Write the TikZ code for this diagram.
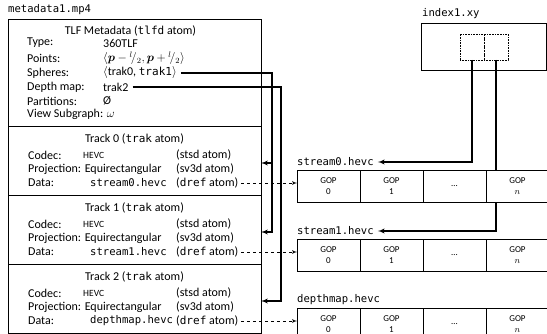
\documentclass[tikz,border=0pt]{standalone}
\usepackage{amsmath}
\usepackage{amssymb}
\usepackage{fontspec}
\setmainfont{Carlito}
\setmonofont{DejaVu Sans Mono}[Scale=0.92]
\usepackage{tikz}
\usetikzlibrary{arrows,calc,positioning,backgrounds}
\tikzset{%
	atombox/.style  = {draw, line width=0.6pt, rectangle, minimum width=253pt, inner sep=0pt, outer sep=0pt}, % mp4 atom
	field/.style    = {anchor=west, inner sep=0pt, font=\fontsize{12}{14}\selectfont},
	title/.style    = {inner sep=0pt, font=\fontsize{12}{14}\selectfont},
	codec/.style    = {anchor=west, inner sep=0pt, font=\fontsize{9.5}{11}\selectfont},
	fname/.style    = {anchor=west, inner sep=0pt, font=\ttfamily\fontsize{11.5}{13}\selectfont}, % file name
	gop/.style      = {draw, line width=0.6pt, fill=white, rectangle, minimum width=63pt, minimum height=32pt, inner sep=0pt, outer sep=0pt, align=center, font=\fontsize{9}{11}\selectfont},
	cell/.style     = {draw, densely dotted, line width=0.6pt, rectangle, minimum width=24pt, minimum height=26pt, inner sep=0pt, outer sep=0pt},
	link/.style     = {line width=1.3pt, ->, >=latex'},
	dref/.style     = {dashed, line width=0.7pt, ->, >=latex'},
}

\begin{document}
\begin{tikzpicture}[x=1pt,y=-1pt]
	\useasboundingbox (0,0) rectangle (547,334);
	
	% metadata file
	\node [fname] (mp4) at (8,10) {metadata1.mp4};
	\node [atombox,minimum height=107pt,anchor=north west] (tlfd) at (8,19) {};
	\node [atombox,minimum height=69pt,below=0pt of tlfd] (trak0) {};
	\node [atombox,minimum height=69pt,below=0pt of trak0] (trak1) {};
	\node [atombox,minimum height=69pt,below=0pt of trak1] (trak2) {};
	
	\node [title] at ($(tlfd.north)+(-4,12)$) {TLF Metadata (\texttt{tlfd} atom)};
	\node [field] (type) at (27,43) {Type:};
	\node [field] at (103,43) {360TLF};
	\node [field] (pts) at (27,58) {Points:};
	\node [field] at (103,58.5) {$\langle \boldsymbol{p} - {}^{l}\!/_{2}, \boldsymbol{p} + {}^{l}\!/_{2}\rangle$};
	\node [field] (sphl) at (27,73) {Spheres:};
	\node [field] (sph) at (103,73) {$\langle$trak0, \texttt{trak1}$\rangle$};
	\node [field] (depl) at (27,87) {Depth map:};
	\node [field] (dep) at (103,87) {trak2};
	\node [field] (part) at (27,101) {Partitions:};
	\node [field] at (103,101) {Ø};
	\node [field] (view) at (27,114) {View Subgraph: $\omega$};
	
	% track 0
	\node [title] at ($(trak0.north)+(0,13)$) {Track 0 (\texttt{trak} atom)};
	\node [field] at ($(trak0.north west)+(20,29)$) {Codec:};
	\node [codec] at ($(trak0.north west)+(75,29)$) {HEVC};
	\node [field] (stsd0) at ($(trak0.north west)+(168,29)$) {(stsd atom)};
	\node [field] at ($(trak0.north west)+(20,43)$) {Projection: Equirectangular};
	\node [field] at ($(trak0.north west)+(168,43)$) {(sv3d atom)};
	\node [field] at ($(trak0.north west)+(20,57)$) {Data:};
	\node [fname] at ($(trak0.north west)+(82,57)$) {stream0.hevc};
	\node [field] (d0) at ($(trak0.north west)+(168,57)$) {(\texttt{dref} atom)};
	
	% track 1
	\node [title] at ($(trak1.north)+(0,13)$) {Track 1 (\texttt{trak} atom)};
	\node [field] at ($(trak1.north west)+(20,29)$) {Codec:};
	\node [codec] at ($(trak1.north west)+(75,29)$) {HEVC};
	\node [field] (stsd1) at ($(trak1.north west)+(168,29)$) {(stsd atom)};
	\node [field] at ($(trak1.north west)+(20,43)$) {Projection: Equirectangular};
	\node [field] at ($(trak1.north west)+(168,43)$) {(sv3d atom)};
	\node [field] at ($(trak1.north west)+(20,57)$) {Data:};
	\node [fname] at ($(trak1.north west)+(82,57)$) {stream1.hevc};
	\node [field] (d1) at ($(trak1.north west)+(168,57)$) {(\texttt{dref} atom)};
	
	% track 2
	\node [title] at ($(trak2.north)+(0,13)$) {Track 2 (\texttt{trak} atom)};
	\node [field] at ($(trak2.north west)+(20,29)$) {Codec:};
	\node [codec] at ($(trak2.north west)+(75,29)$) {HEVC};
	\node [field] (stsd2) at ($(trak2.north west)+(168,29)$) {(stsd atom)};
	\node [field] at ($(trak2.north west)+(20,43)$) {Projection: Equirectangular};
	\node [field] at ($(trak2.north west)+(168,43)$) {(sv3d atom)};
	\node [field] at ($(trak2.north west)+(20,57)$) {Data:};
	\node [fname] at ($(trak2.north west)+(82,57)$) {depthmap.hevc};
	\node [field] (d2) at ($(trak2.north west)+(168,57)$) {(\texttt{dref} atom)};
	
	% index file
	\node [draw,line width=0.6pt,rectangle,minimum width=125pt,minimum height=47pt,anchor=north west] (idx) at (421,23) {};
	\node [fname] at ($(idx.north west)+(1,-9)$) {index1.xy};
	\node [cell,anchor=north west] (c0) at (460,34) {};
	\node [cell,right=0pt of c0] (c1) {};
	
	% streams
	\node [gop,anchor=west] (s0g0) at ($(trak0.south east)+(36,-9)$) {GOP\\0};
	\node [gop,right=0pt of s0g0] (s0g1) {GOP\\1};
	\node [gop,right=0pt of s0g1] (s0g2) {\dots};
	\node [gop,right=0pt of s0g2] (s0g3) {GOP\\$n$};
	\node [fname] (s0) at ($(s0g0.north west)+(0,-8)$) {stream0.hevc};
	
	\node [gop,anchor=west] (s1g0) at ($(trak1.south east)+(36,-9)$) {GOP\\0};
	\node [gop,right=0pt of s1g0] (s1g1) {GOP\\1};
	\node [gop,right=0pt of s1g1] (s1g2) {\dots};
	\node [gop,right=0pt of s1g2] (s1g3) {GOP\\$n$};
	\node [fname] (s1) at ($(s1g0.north west)+(0,-8)$) {stream1.hevc};
	
	\node [gop,anchor=west] (s2g0) at ($(trak2.south east)+(36,-9)$) {GOP\\0};
	\node [gop,right=0pt of s2g0] (s2g1) {GOP\\1};
	\node [gop,right=0pt of s2g1] (s2g2) {\dots};
	\node [gop,right=0pt of s2g2] (s2g3) {GOP\\$n$};
	\node [fname] (s2) at ($(s2g0.north west)+(0,-8)$) {depthmap.hevc};
	
	% track references
	\coordinate (bus0) at ($(trak0.east)+(11,0)$);
	\coordinate (bus1) at ($(trak0.east)+(20,0)$);
	\coordinate (in0) at ($(trak0.north east)+(0,37)$);
	\coordinate (in1) at ($(trak1.north east)+(0,37)$);
	\coordinate (in2) at ($(trak2.north east)+(0,37)$);
	\draw[link,shorten <=4pt] (sph.east) -| (bus0 |- in1) -- (in1);
	\draw[link] (bus0 |- in0) -- (in0);
	\draw[link,shorten <=4pt] (dep.east) -| (bus1 |- in2) -- (in2);
	
	\draw[dref,shorten <=3pt] (d0.east) -- (d0.east -| s0g0.west);
	\draw[dref,shorten <=3pt] (d1.east) -- (d1.east -| s1g0.west);
	\draw[dref,shorten <=3pt] (d2.east) -- (d2.east -| s2g0.west);
	
	\begin{scope}[on background layer]
	\draw[link,shorten >=4pt] (c0.south) |- (s0.east);
	\draw[link,shorten >=4pt] (c1.south) |- (s1.east);
	\end{scope}
	
\end{tikzpicture}
\end{document}
